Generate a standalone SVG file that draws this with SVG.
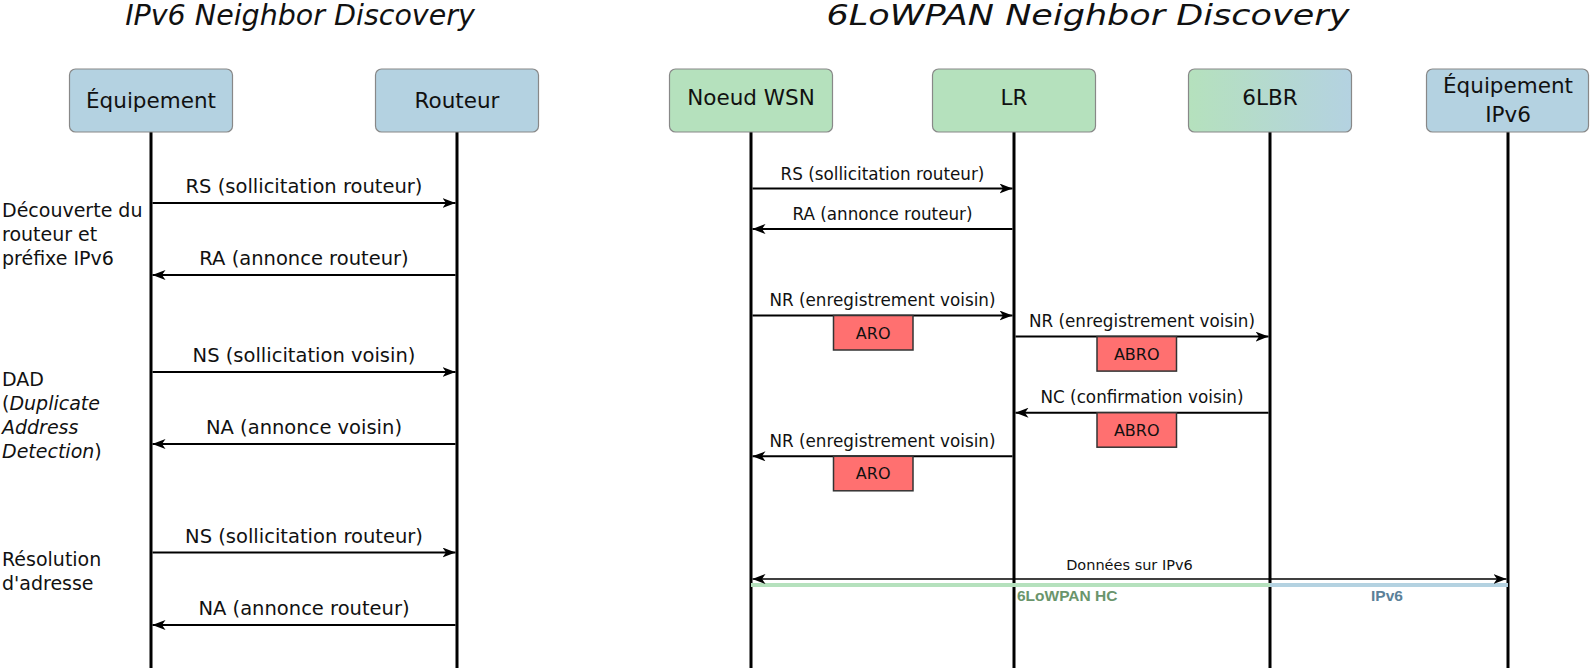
<svg xmlns="http://www.w3.org/2000/svg" width="1590" height="668" viewBox="0 0 1590 668">
<style>
.t{font-family:"DejaVu Sans",Verdana,sans-serif;fill:#111}
.title{font-size:28.5px;font-style:italic;text-anchor:middle}
.node{font-size:21.5px;text-anchor:middle}
.ml{font-size:19.5px;text-anchor:middle}
.mr{font-size:16.8px;text-anchor:middle}
.side{font-size:19px}
.opt{font-size:16px;text-anchor:middle}
.blue{fill:#b4d2e1;stroke:#888;stroke-width:1.2}
.green{fill:#b5e1bd;stroke:#888;stroke-width:1.2}
.grad{fill:url(#g6lbr);stroke:#888;stroke-width:1.2}
.life{stroke:#000;stroke-width:3;fill:none}
.msg{stroke:#000;stroke-width:2;fill:none;marker-end:url(#arr)}
.optbox{fill:#ff7070;stroke:#333;stroke-width:1.5}
.band{font-family:"Liberation Sans",Arial,sans-serif;font-weight:bold;font-size:15.5px}
</style>
<defs>
<linearGradient id="g6lbr" x1="0" y1="0" x2="1" y2="0">
<stop offset="0" stop-color="#b5e1bd"/>
<stop offset="1" stop-color="#b4d2e1"/>
</linearGradient>
<marker id="arr" viewBox="0 0 13 10" refX="13" refY="5" markerWidth="13" markerHeight="10" markerUnits="userSpaceOnUse" orient="auto-start-reverse">
<path d="M0,0 L13,5 L0,10 L3.5,5 z" fill="#000"/>
</marker>
</defs>

<text class="t title" x="300" y="25">IPv6 Neighbor Discovery</text>
<text class="t title" x="1088" y="25" textLength="523" lengthAdjust="spacingAndGlyphs">6LoWPAN Neighbor Discovery</text>

<g id="connectors">
<line class="life" x1="151" y1="132" x2="151" y2="668"/>
<line class="life" x1="457" y1="132" x2="457" y2="668"/>
<line class="life" x1="751" y1="132" x2="751" y2="668"/>
<line class="life" x1="1014" y1="132" x2="1014" y2="668"/>
<line class="life" x1="1270" y1="132" x2="1270" y2="668"/>
<line class="life" x1="1508" y1="132" x2="1508" y2="668"/>

<line class="msg" x1="152.5" y1="203" x2="455.5" y2="203"/>
<line class="msg" x1="455.5" y1="275" x2="152.5" y2="275"/>
<line class="msg" x1="152.5" y1="372" x2="455.5" y2="372"/>
<line class="msg" x1="455.5" y1="444" x2="152.5" y2="444"/>
<line class="msg" x1="152.5" y1="552.5" x2="455.5" y2="552.5"/>
<line class="msg" x1="455.5" y1="625" x2="152.5" y2="625"/>

<line class="msg" x1="752.5" y1="188.5" x2="1012.5" y2="188.5"/>
<line class="msg" x1="1012.5" y1="229" x2="752.5" y2="229"/>
<line class="msg" x1="752.5" y1="315.5" x2="1012.5" y2="315.5"/>
<line class="msg" x1="1015.5" y1="336.6" x2="1268.5" y2="336.6"/>
<line class="msg" x1="1268.5" y1="412.7" x2="1015.5" y2="412.7"/>
<line class="msg" x1="1012.5" y1="456.3" x2="752.5" y2="456.3"/>

<rect x="751" y="583" width="519" height="4" fill="#b5e1bd"/>
<rect x="1270" y="583" width="238" height="4" fill="#b4d2e1"/>
<line x1="752.5" y1="579" x2="1506.5" y2="579" stroke="#000" stroke-width="1.5" marker-start="url(#arr)" marker-end="url(#arr)"/>
</g>

<g id="node-equipement">
<rect class="blue" x="69.5" y="69" width="163" height="63" rx="6"/>
<text class="t node" x="151" y="107.5">Équipement</text>
</g>
<g id="node-routeur">
<rect class="blue" x="375.5" y="69" width="163" height="63" rx="6"/>
<text class="t node" x="457" y="107.5">Routeur</text>
</g>
<g id="node-noeud-wsn">
<rect class="green" x="669.5" y="69" width="163" height="63" rx="6"/>
<text class="t node" x="751" y="104.5">Noeud WSN</text>
</g>
<g id="node-lr">
<rect class="green" x="932.5" y="69" width="163" height="63" rx="6"/>
<text class="t node" x="1014" y="104.5">LR</text>
</g>
<g id="node-6lbr">
<rect class="grad" x="1188.5" y="69" width="163" height="63" rx="6"/>
<text class="t node" x="1270" y="104.5">6LBR</text>
</g>
<g id="node-equipement-ipv6">
<rect class="blue" x="1426.5" y="69" width="162" height="63" rx="6"/>
<text class="t node" x="1508" y="93">Équipement</text>
<text class="t node" x="1508" y="121.5">IPv6</text>
</g>

<g id="labels-left">
<text class="t ml" x="304" y="193">RS (sollicitation routeur)</text>
<text class="t ml" x="304" y="265">RA (annonce routeur)</text>
<text class="t ml" x="304" y="362">NS (sollicitation voisin)</text>
<text class="t ml" x="304" y="434">NA (annonce voisin)</text>
<text class="t ml" x="304" y="542.5">NS (sollicitation routeur)</text>
<text class="t ml" x="304" y="615">NA (annonce routeur)</text>
</g>

<g id="phases">
<text class="t side" x="2" y="217">Découverte du</text>
<text class="t side" x="2" y="241">routeur et</text>
<text class="t side" x="2" y="265">préfixe IPv6</text>
<text class="t side" x="2" y="386">DAD</text>
<text class="t side" x="2" y="410">(<tspan font-style="italic">Duplicate</tspan></text>
<text class="t side" x="2" y="434" font-style="italic">Address</text>
<text class="t side" x="2" y="458"><tspan font-style="italic">Detection</tspan>)</text>
<text class="t side" x="2" y="566">Résolution</text>
<text class="t side" x="2" y="590">d'adresse</text>
</g>

<g id="labels-right">
<text class="t mr" x="882.5" y="180">RS (sollicitation routeur)</text>
<text class="t mr" x="882.5" y="220">RA (annonce routeur)</text>
<text class="t mr" x="882.5" y="306">NR (enregistrement voisin)</text>
<text class="t mr" x="1142" y="327">NR (enregistrement voisin)</text>
<text class="t mr" x="1142" y="403">NC (confirmation voisin)</text>
<text class="t mr" x="882.5" y="447">NR (enregistrement voisin)</text>
<text class="t" x="1129.5" y="570" font-size="14.5" text-anchor="middle">Données sur IPv6</text>
</g>

<g id="opt-aro-1">
<rect class="optbox" x="833.5" y="315.5" width="79.5" height="34.5"/>
<text class="t opt" x="873.2" y="338.5">ARO</text>
</g>
<g id="opt-abro-1">
<rect class="optbox" x="1097" y="336.6" width="79.5" height="34.5"/>
<text class="t opt" x="1136.7" y="359.6">ABRO</text>
</g>
<g id="opt-abro-2">
<rect class="optbox" x="1097" y="412.7" width="79.5" height="34.5"/>
<text class="t opt" x="1136.7" y="435.7">ABRO</text>
</g>
<g id="opt-aro-2">
<rect class="optbox" x="833.5" y="456.3" width="79.5" height="34.5"/>
<text class="t opt" x="873.2" y="479.3">ARO</text>
</g>

<g id="band-labels">
<text class="band" x="1017" y="601" fill="#6a956c">6LoWPAN HC</text>
<text class="band" x="1387" y="601" fill="#5b8199" text-anchor="middle">IPv6</text>
</g>
</svg>
